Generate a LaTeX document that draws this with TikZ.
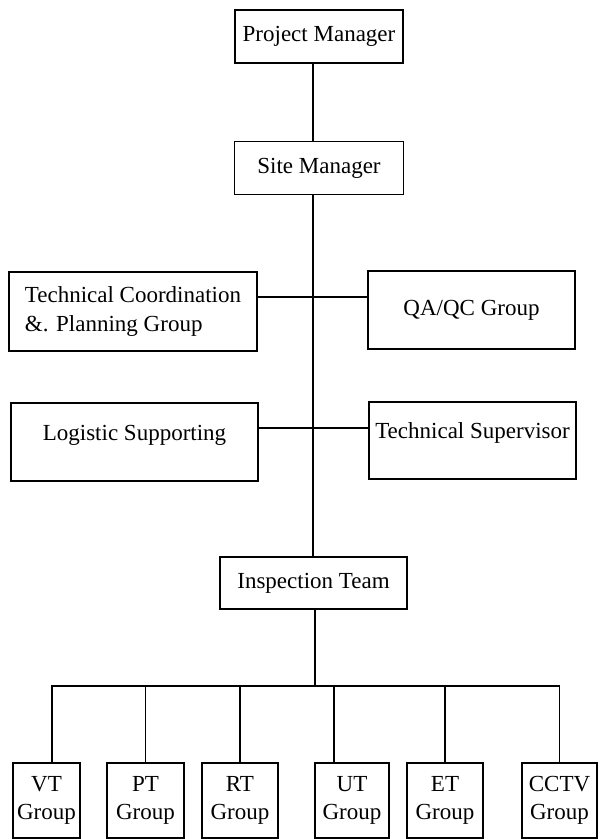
\documentclass[tikz,border=0pt]{standalone}
\usepackage{fontspec}
\setmainfont{Liberation Serif}
\usepackage{tikz}
\usetikzlibrary{positioning}

\begin{document}
\begin{tikzpicture}[x=1pt, y=-1pt,
    line width = 1.6pt,
every node/.style = {draw, inner sep=0pt, align=center,
                     font=\fontsize{23}{28.5}\selectfont}]
\useasboundingbox (0,0) rectangle (602,839);
\coordinate                     (a)  at (313,0);
\coordinate                     (b)  at (315,686);
\coordinate                     (c)  at (313,297);
\coordinate                     (d)  at (313,428);

\node[minimum width=168pt, minimum height=53pt,
      at={(319,36.5)}]            (pm)    {Project Manager};
\node[minimum width=169pt, minimum height=53pt,
      below=77pt of pm]           (sm)    {Site Manager};
\path[draw] (pm.south -| a) -- (sm.north -| a);

\node[minimum width=248pt, minimum height=79pt, align=left,
      at={(133,311.5)}]           (tc)    {Technical Coordination\\ \&. Planning Group};
\node[minimum width=207pt, minimum height=78pt,
      at={(471.5,310)}]           (qa)    {QA/QC Group};
\path[draw] (tc.east |- c) -- (qa.west |- c);

\node[minimum width=247pt, minimum height=78pt, text depth=19pt,
      at={(134.5,442)}]           (ls)    {Logistic Supporting};
\node[minimum width=207pt, minimum height=77pt, text depth=19pt,
      at={(472.5,440.5)}]         (ts)    {Technical Supervisor};
\path[draw] (ls.east |- d) -- (ts.west |- d);

\node[minimum width=187pt, minimum height=52pt,
      at={(313.5,583)}]           (it)    {Inspection Team};
\path[draw] (sm.south -| a) -- (it.north -| a);
\path[draw] (it.south -| b) -- (b);

\node[minimum width=67pt, minimum height=75pt, at={(46.5,800.5)}]  (vt)   {VT\\Group};
\node[minimum width=77pt, minimum height=75pt, at={(145.5,800.5)}] (pt)   {PT\\Group};
\node[minimum width=76pt, minimum height=75pt, at={(240,800.5)}]   (rt)   {RT\\Group};
\node[minimum width=74pt, minimum height=75pt, at={(352,800.5)}]   (ut)   {UT\\Group};
\node[minimum width=76pt, minimum height=75pt, at={(445,800.5)}]   (et)   {ET\\Group};
\node[minimum width=75pt, minimum height=75pt, at={(559.5,800.5)}] (cctv) {CCTV\\Group};

\coordinate (e) at ([xshift=5.5pt]vt.north);
\coordinate (f) at ([xshift=-18pt]ut.north);
\path[draw] (e) |- (b) -| (cctv.north);
\path[draw] (pt.north) -- (pt.north |- b);
\path[draw] (rt.north) -- (rt.north |- b);
\path[draw] (f) -- (f |- b);
\path[draw] (et.north) -- (et.north |- b);
\end{tikzpicture}
\end{document}
